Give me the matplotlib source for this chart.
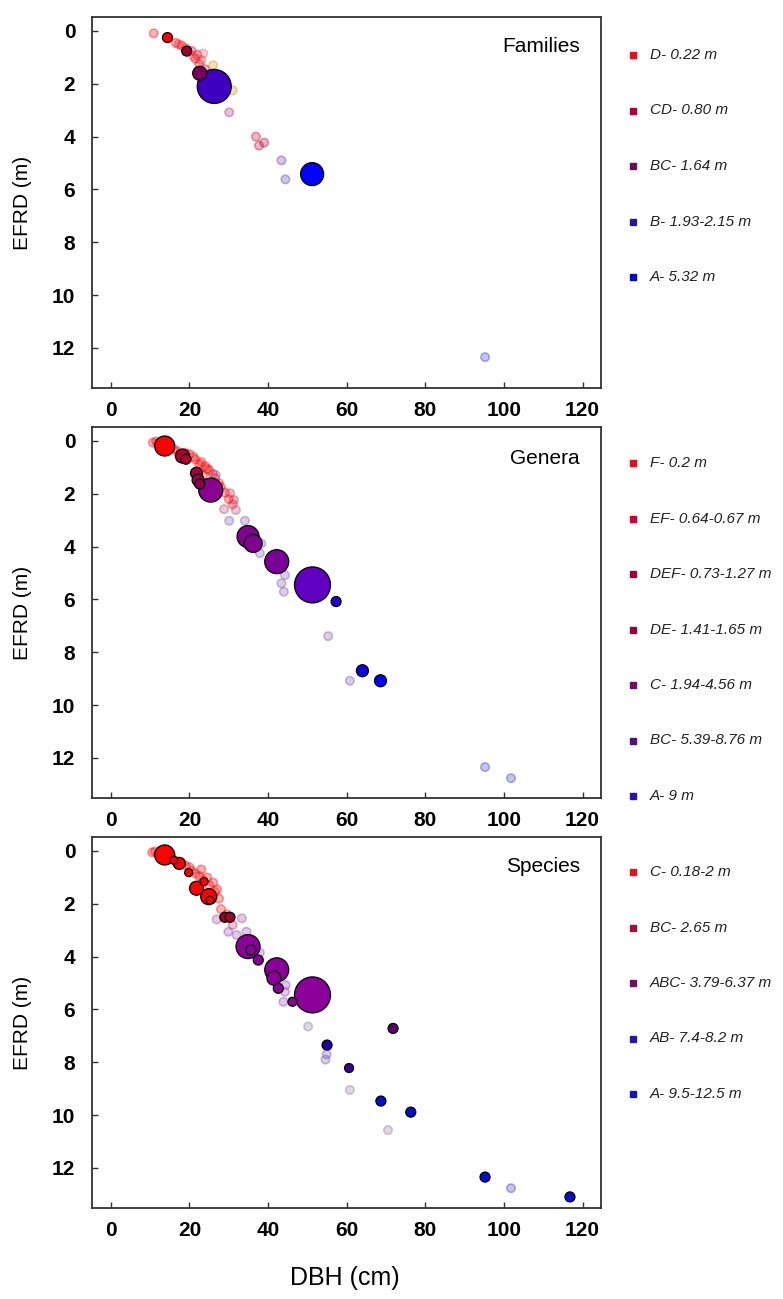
import matplotlib
matplotlib.use("Agg")
import matplotlib.pyplot as plt
from matplotlib.lines import Line2D
from matplotlib.colors import to_rgba

plt.rcParams['font.family'] = ['Liberation Sans', 'DejaVu Sans']

# ---------------- DATA ----------------
panel_titles = ["Families", "Genera", "Species"]

x_ticks = [0, 20, 40, 60, 80, 100, 120]
y_ticks = [0, 2, 4, 6, 8, 10, 12]

# Families: highlighted taxa (DBH, EFRD, weight, colour)
fam_dbh = [14.4, 19.3, 22.6, 26.3, 51.2]
fam_efrd = [0.25, 0.76, 1.60, 2.10, 5.42]
fam_weight = [5, 5, 7, 17, 11.5]
fam_color = ["#ff0000", "#a00030", "#7a0060", "#4000c0", "#0000ff"]
# Families: other taxa
fam_o_dbh = [10.9, 16.5, 17.2, 18.0, 19.0, 20.5, 22.0, 23.5, 21.5, 22.5, 24.0, 26.0, 31.0,
             25.0, 21.0, 23.0, 30.1, 36.9, 37.7, 39.0, 43.4, 44.4, 95.2]
fam_o_efrd = [0.09, 0.45, 0.50, 0.55, 0.65, 0.75, 0.90, 0.85, 1.05, 1.25, 1.45, 1.30, 2.25,
              1.70, 0.95, 1.10, 3.08, 4.00, 4.34, 4.23, 4.90, 5.62, 12.35]
fam_o_color = ["#ff0000", "#ff0000", "#ff2020", "#ff0000", "#ff2020", "#e00020", "#e00020",
               "#e06070", "#ff0000", "#c00030", "#c00030", "#d09000", "#d09000", "#c00030",
               "#ff3030", "#ff3030",
               "#a03070", "#c00030", "#c00030", "#c00030", "#7030a0", "#5040b0", "#3030d0"]
fam_leg_labels = ["D- 0.22 m", "CD- 0.80 m", "BC- 1.64 m", "B- 1.93-2.15 m", "A- 5.32 m"]
fam_leg_colors = ["#e8101c", "#b00038", "#6a1050", "#281890", "#0010c0"]

# Genera
gen_dbh = [13.7, 18.2, 19.1, 21.8, 22.2, 22.6, 25.4, 34.9, 36.2, 42.2, 51.3, 57.3, 64.0, 68.6]
gen_efrd = [0.19, 0.57, 0.69, 1.22, 1.48, 1.63, 1.86, 3.62, 3.88, 4.57, 5.45, 6.08, 8.70, 9.08]
gen_weight = [10, 7, 5, 6, 6, 5, 12, 11, 9, 12, 18, 5, 6, 6]
gen_color = ["#ff0000", "#b00030", "#b00030", "#a00040", "#980048", "#900050", "#8a0090",
             "#800090", "#800090", "#7a0098", "#6000c0", "#2000d0", "#1000e0", "#0000ff"]
gen_o_dbh = [10.7, 12.0, 16.0, 17.0, 20.0, 21.5, 23.0, 24.0, 25.0, 26.0, 23.5, 27.5, 29.0,
             30.0, 31.0, 11.5, 13.0, 15.0, 19.0, 21.0, 22.5, 24.5, 26.5, 28.0,
             26.7, 30.3, 31.3, 28.8, 31.8, 30.1, 34.1, 38.3, 37.9, 44.3, 43.4,
             44.0, 55.3, 60.8, 95.2, 101.8]
gen_o_efrd = [0.06, 0.10, 0.30, 0.40, 0.50, 0.70, 0.80, 0.95, 1.10, 1.25, 1.30, 1.60, 1.95,
              2.20, 2.40, 0.02, 0.08, 0.18, 0.45, 0.60, 0.88, 1.05, 1.40, 1.75,
              1.29, 1.98, 2.23, 2.58, 2.61, 3.02, 3.02, 3.88, 4.25, 5.08, 5.39,
              5.71, 7.39, 9.08, 12.35, 12.77]
gen_o_color = ["#ff0000"] * 24 + ["#8050b0", "#e02040", "#e02040", "#b04070", "#b04070",
                                  "#8050b0", "#8050b0", "#8050b0", "#8050b0", "#8050b0",
                                  "#8050b0", "#8050b0", "#8050b0", "#7050b0", "#3030d0", "#3030d0"]
gen_leg_labels = ["F- 0.2 m", "EF- 0.64-0.67 m", "DEF- 0.73-1.27 m", "DE- 1.41-1.65 m",
                  "C- 1.94-4.56 m", "BC- 5.39-8.76 m", "A- 9 m"]
gen_leg_colors = ["#e01020", "#d00030", "#a00040", "#980040", "#701060", "#501080", "#3010b0"]

# Species
spe_dbh = [13.7, 16.0, 17.4, 19.8, 21.8, 23.7, 24.9, 25.2, 29.0, 30.3, 34.9, 35.6, 37.5, 42.2,
           41.5, 42.6, 46.2, 51.3, 71.8, 55.0, 60.6, 68.7, 76.3, 95.2, 116.8]
spe_efrd = [0.15, 0.35, 0.47, 0.82, 1.41, 1.16, 1.73, 1.86, 2.51, 2.51, 3.62, 3.75, 4.13, 4.50,
            4.82, 5.20, 5.71, 5.45, 6.72, 7.35, 8.22, 9.47, 9.89, 12.35, 13.10]
spe_weight = [10, 4, 6, 4, 7, 4, 8, 4, 5, 5, 12, 5, 5, 12, 7, 5, 4.5, 18, 5, 5, 4.5, 5, 5, 5, 5]
spe_color = ["#ff0000"] * 8 + ["#a00030", "#a00030"] + ["#8a0099"] * 8 + \
            ["#600070", "#2000b0", "#400090", "#0010d0", "#0010d0", "#0010d0", "#0010d0"]
spe_o_dbh = [10.5, 12.0, 15.5, 17.0, 19.0, 20.5, 22.5, 23.5, 25.0, 26.5, 27.5, 28.0, 24.5,
             11.2, 13.5, 18.0, 20.0, 21.5, 23.0, 26.0, 27.0, 29.5,
             26.9, 33.3, 29.9, 32.0, 34.5, 31.0, 37.9, 44.5, 44.3, 43.9, 50.2, 54.9, 54.6,
             60.8, 70.5, 101.8]
spe_o_efrd = [0.05, 0.10, 0.25, 0.40, 0.55, 0.75, 0.95, 1.10, 1.30, 1.55, 1.80, 2.20, 1.00,
              0.02, 0.12, 0.45, 0.62, 0.85, 0.70, 1.20, 1.45, 2.40,
              2.59, 2.55, 3.06, 3.18, 3.06, 2.80, 3.85, 5.08, 5.33, 5.71, 6.65, 7.70, 7.90,
              9.05, 10.57, 12.77]
spe_o_color = ["#ff0000"] * 22 + ["#a040a0", "#a040a0", "#9040b0", "#9040b0", "#9040b0",
                                  "#c03060", "#9040b0", "#9040b0", "#9040b0", "#9040b0",
                                  "#9070a0", "#7050b0", "#7050b0", "#9070a0", "#9070a0", "#3030d0"]
spe_leg_labels = ["C- 0.18-2 m", "BC- 2.65 m", "ABC- 3.79-6.37 m", "AB- 7.4-8.2 m", "A- 9.5-12.5 m"]
spe_leg_colors = ["#e81020", "#a01040", "#701060", "#2818a0", "#0818c0"]

panels = [
    (fam_dbh, fam_efrd, fam_weight, fam_color, fam_o_dbh, fam_o_efrd, fam_o_color,
     fam_leg_labels, fam_leg_colors),
    (gen_dbh, gen_efrd, gen_weight, gen_color, gen_o_dbh, gen_o_efrd, gen_o_color,
     gen_leg_labels, gen_leg_colors),
    (spe_dbh, spe_efrd, spe_weight, spe_color, spe_o_dbh, spe_o_efrd, spe_o_color,
     spe_leg_labels, spe_leg_colors),
]

# ---------------- LAYOUT ----------------
W, H = 783, 1299
DPI = 100
fig = plt.figure(figsize=(W / DPI, H / DPI), dpi=DPI)

ax_left, ax_right = 92, 601
ax_tops = [17, 427, 837]
ax_h = 371
leg_first = [55, 463, 872]
leg_step = 55.5
title_y = [46, 458, 866]

px_per_pt = DPI / 72.0


def size_from_radius(r):
    return (2 * r / px_per_pt) ** 2


for i, (hx, hy, hw, hc, ox, oy, oc, ll, lc) in enumerate(panels):
    top = ax_tops[i]
    ax = fig.add_axes([ax_left / W, 1 - (top + ax_h) / H, (ax_right - ax_left) / W, ax_h / H])
    ax.set_xlim(-4.8, 124.7)
    ax.set_ylim(13.52, -0.53)

    fc = [to_rgba(c, 0.28) for c in oc]
    ec = [to_rgba(c, 0.38) for c in oc]
    ax.scatter(ox, oy, s=size_from_radius(4.2), c=fc, edgecolors=ec, linewidths=1.2, zorder=2)

    sizes = [size_from_radius(r) for r in hw]
    order = sorted(range(len(hx)), key=lambda k: -hw[k])
    ax.scatter([hx[k] for k in order], [hy[k] for k in order], s=[sizes[k] for k in order],
               c=[hc[k] for k in order], edgecolors="black", linewidths=0.9, zorder=3)

    ax.set_xticks(x_ticks)
    ax.set_yticks(y_ticks)
    ax.tick_params(direction="in", length=4, width=1, colors="#333333",
                   labelcolor="black", labelsize=15)
    ax.tick_params(axis="x", pad=9)
    ax.tick_params(axis="y", pad=12)
    for lab in ax.get_xticklabels() + ax.get_yticklabels():
        lab.set_fontweight("bold")
    for sp in ax.spines.values():
        sp.set_color("#333333")
        sp.set_linewidth(1.3)

    ax.set_ylabel("EFRD (m)", fontsize=15)
    ax.yaxis.set_label_coords(-0.118, 0.5)

    ax.text((580 - ax_left) / (ax_right - ax_left), 1 - (title_y[i] - top) / ax_h,
            panel_titles[i], transform=ax.transAxes, ha="right", va="center", fontsize=15)

    for j, (lab, col) in enumerate(zip(ll, lc)):
        yy = 1 - (leg_first[i] + j * leg_step) / H
        fig.add_artist(Line2D([633 / W], [yy], marker="s", markersize=4.5, color=col,
                              linestyle="none", transform=fig.transFigure))
        fig.text(650 / W, yy, lab, ha="left", va="center", fontsize=11, style="italic",
                 color="#222222")

    if i == 2:
        ax.set_xlabel("DBH (cm)", fontsize=18)
        ax.xaxis.set_label_coords(0.497, -0.19)
        ax.xaxis.label.set_va("center")

fig.savefig("out.png", dpi=DPI)
